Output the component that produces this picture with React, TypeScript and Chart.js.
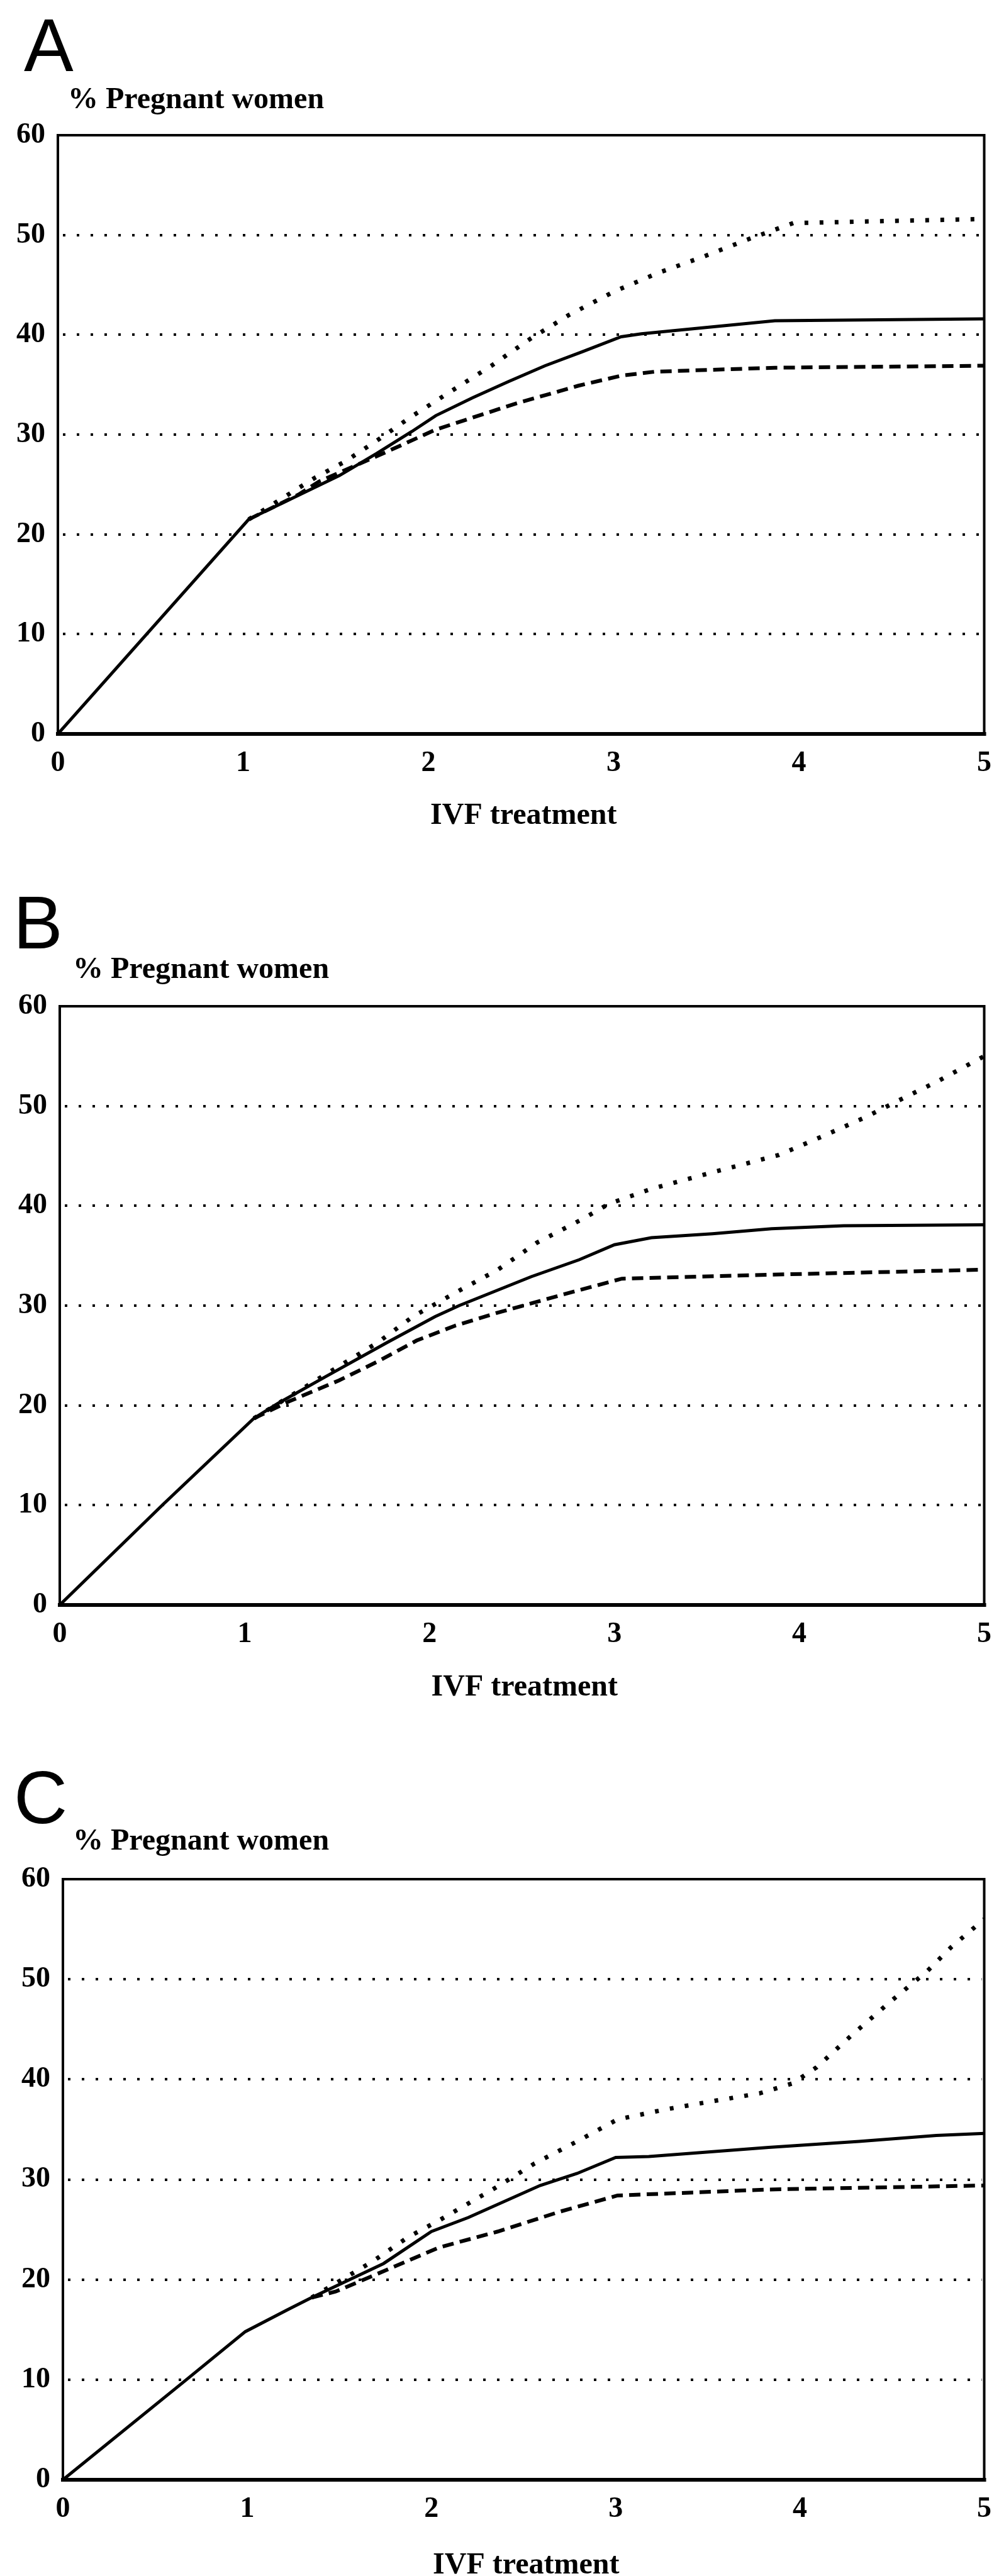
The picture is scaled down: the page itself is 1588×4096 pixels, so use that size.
import React, { useEffect, useRef } from "react";
import { Chart, registerables } from "chart.js";

Chart.register(...registerables);

// ---------- shared labels ----------
const X_TICK_MIN = 0;
const X_TICK_MAX = 5;
const Y_TICK_MIN = 0;
const Y_TICK_MAX = 60;
const Y_GRID_VALUES = [10, 20, 30, 40, 50];
const PANEL_LETTERS = ["A", "B", "C"];
const Y_TITLE = "% Pregnant women";
const X_TITLE = "IVF treatment";

// ---------- Panel A ----------
const A_SOLID_X = [0, 1.03, 1.32, 1.52, 1.72, 1.91, 2.04, 2.24, 2.43, 2.63, 2.83, 3.04, 3.15, 3.87, 5];
const A_SOLID_Y = [0, 21.5, 24.1, 25.9, 28.1, 30.3, 31.9, 33.7, 35.3, 36.9, 38.3, 39.8, 40.1, 41.4, 41.6];
const A_DASH_X = [1.03, 1.3, 1.41, 1.73, 2.04, 2.47, 2.81, 3.04, 3.22, 3.87, 5];
const A_DASH_Y = [21.5, 24.0, 25.3, 27.9, 30.5, 33.1, 34.9, 35.9, 36.3, 36.7, 36.9];
const A_DOT_X = [1.03, 1.39, 1.55, 1.73, 1.9, 2.11, 2.34, 2.55, 2.76, 3.01, 3.24, 3.48, 3.73, 3.97, 5];
const A_DOT_Y = [21.5, 25.7, 27.3, 29.5, 31.7, 34.2, 36.9, 39.6, 42.0, 44.4, 46.2, 47.8, 49.6, 51.2, 51.6];

// ---------- Panel B ----------
const B_SOLID_X = [0, 0.56, 1.05, 1.18, 1.44, 1.77, 2.03, 2.16, 2.55, 2.81, 3.0, 3.2, 3.53, 3.85, 4.24, 5];
const B_SOLID_Y = [0, 10.1, 18.7, 20.2, 22.9, 26.3, 28.9, 30.0, 32.9, 34.6, 36.1, 36.8, 37.2, 37.7, 38.0, 38.1];
const B_DASH_X = [1.05, 1.24, 1.51, 1.72, 1.93, 2.14, 2.37, 2.7, 3.04, 3.85, 5];
const B_DASH_Y = [18.7, 20.4, 22.5, 24.4, 26.5, 28.0, 29.3, 31.0, 32.7, 33.1, 33.6];
const B_DOT_X = [1.05, 1.42, 1.72, 1.91, 2.16, 2.37, 2.58, 2.83, 2.97, 3.2, 3.54, 3.89, 4.13, 4.36, 4.52, 4.75, 5];
const B_DOT_Y = [18.7, 22.9, 26.3, 28.9, 31.5, 33.6, 36.3, 38.7, 40.2, 41.7, 43.4, 45.1, 47.0, 48.9, 50.4, 52.5, 55.0];

// ---------- Panel C ----------
const C_SOLID_X = [0, 0.67, 0.99, 1.22, 1.35, 1.74, 2.0, 2.2, 2.59, 2.79, 3.0, 3.18, 3.83, 4.32, 4.74, 5];
const C_SOLID_Y = [0, 10.0, 14.8, 17.0, 18.2, 21.6, 24.8, 26.2, 29.4, 30.6, 32.2, 32.3, 33.2, 33.8, 34.4, 34.6];
const C_DASH_X = [1.35, 1.48, 1.71, 2.04, 2.36, 2.7, 3.01, 3.83, 5];
const C_DASH_Y = [18.2, 18.8, 20.6, 23.2, 24.8, 26.8, 28.4, 29.0, 29.4];
const C_DOT_X = [1.35, 1.68, 1.87, 2.05, 2.35, 2.56, 2.79, 3.01, 3.27, 3.52, 3.78, 3.96, 4.09, 4.28, 4.48, 4.69, 4.82, 5];
const C_DOT_Y = [18.2, 21.8, 24.2, 26.0, 29.2, 31.6, 33.8, 36.0, 37.0, 37.8, 38.6, 39.6, 41.2, 44.4, 47.6, 50.8, 53.2, 56.0];

// ---------- styling / layout (target px) ----------
const PAGE_W = 1588;
const TICK_FONT = { family: "Liberation Serif", weight: "bold" as const, size: 46 };
const TEXT_FONT = "bold 48px 'Liberation Serif'";
const LETTER_FONT = "118px 'Liberation Sans'";

type Series = { xs: number[]; ys: number[]; width: number; dash: number[] };
type Layout = {
  canvasTop: number;
  canvasH: number;
  plotTop: number;
  plotBottom: number;
  plotLeft: number;
  plotRight: number;
  letterX: number;
  letterBase: number;
  labelX: number;
  labelBase: number;
  titleBase: number;
};

const SOLID = { width: 5, dash: [] as number[] };
const DASHED = { width: 6, dash: [18, 10] };
const DOTTED = { width: 7, dash: [6, 18] };

const PANELS: { letter: string; layout: Layout; series: Series[] }[] = [
  {
    letter: PANEL_LETTERS[0],
    layout: { canvasTop: 0, canvasH: 1340, plotTop: 215, plotBottom: 1167, plotLeft: 92, plotRight: 1567, letterX: 38, letterBase: 113, labelX: 108, labelBase: 172, titleBase: 1310 },
    series: [
      { xs: A_DOT_X, ys: A_DOT_Y, ...DOTTED },
      { xs: A_DASH_X, ys: A_DASH_Y, ...DASHED },
      { xs: A_SOLID_X, ys: A_SOLID_Y, ...SOLID },
    ],
  },
  {
    letter: PANEL_LETTERS[1],
    layout: { canvasTop: 1340, canvasH: 1390, plotTop: 1600, plotBottom: 2552, plotLeft: 95, plotRight: 1576, letterX: 21, letterBase: 1508, labelX: 116, labelBase: 1555, titleBase: 2696 },
    series: [
      { xs: B_DOT_X, ys: B_DOT_Y, ...DOTTED },
      { xs: B_DASH_X, ys: B_DASH_Y, ...DASHED },
      { xs: B_SOLID_X, ys: B_SOLID_Y, ...SOLID },
    ],
  },
  {
    letter: PANEL_LETTERS[2],
    layout: { canvasTop: 2730, canvasH: 1366, plotTop: 2988, plotBottom: 3943, plotLeft: 100, plotRight: 1582, letterX: 22, letterBase: 2899, labelX: 116, labelBase: 2941, titleBase: 4092 },
    series: [
      { xs: C_DOT_X, ys: C_DOT_Y, ...DOTTED },
      { xs: C_DASH_X, ys: C_DASH_Y, ...DASHED },
      { xs: C_SOLID_X, ys: C_SOLID_Y, ...SOLID },
    ],
  },
];

function Panel({ letter, layout, series }: { letter: string; layout: Layout; series: Series[] }) {
  const ref = useRef<HTMLCanvasElement | null>(null);

  useEffect(() => {
    const canvas = ref.current;
    if (!canvas) return;
    const L = layout;
    const top = L.canvasTop;

    const framePlugin = {
      id: "frameAndText",
      beforeDatasetsDraw(chart: any) {
        const { ctx, chartArea } = chart;
        const ys = chart.scales.y;
        ctx.save();
        ctx.strokeStyle = "#000";
        ctx.lineWidth = 4;
        ctx.setLineDash([4, 18]);
        for (const v of Y_GRID_VALUES) {
          const py = Math.round(ys.getPixelForValue(v));
          ctx.beginPath();
          ctx.moveTo(chartArea.left + 8, py);
          ctx.lineTo(chartArea.right - 4, py);
          ctx.stroke();
        }
        ctx.restore();
      },
      afterDatasetsDraw(chart: any) {
        const { ctx, chartArea } = chart;
        const { left, right, top: t, bottom } = chartArea;
        ctx.save();
        ctx.strokeStyle = "#000";
        ctx.setLineDash([]);
        ctx.lineCap = "square";
        ctx.lineWidth = 4;
        ctx.beginPath();
        ctx.moveTo(left, bottom);
        ctx.lineTo(left, t);
        ctx.lineTo(right, t);
        ctx.lineTo(right, bottom);
        ctx.stroke();
        ctx.lineWidth = 6;
        ctx.beginPath();
        ctx.moveTo(left, bottom);
        ctx.lineTo(right, bottom);
        ctx.stroke();

        ctx.fillStyle = "#000";
        ctx.textBaseline = "alphabetic";
        ctx.textAlign = "left";
        ctx.font = LETTER_FONT;
        ctx.fillText(letter, L.letterX, L.letterBase - top);
        ctx.font = TEXT_FONT;
        ctx.fillText(Y_TITLE, L.labelX, L.labelBase - top);
        ctx.textAlign = "center";
        ctx.fillText(X_TITLE, (left + right) / 2 + 4, L.titleBase - top);
        ctx.restore();
      },
    };

    const chart = new Chart(canvas, {
      type: "line",
      data: {
        datasets: series.map((s) => ({
          data: s.xs.map((x, i) => ({ x, y: s.ys[i] })),
          borderColor: "#000",
          backgroundColor: "#000",
          borderWidth: s.width,
          borderDash: s.dash,
          borderCapStyle: "butt" as const,
          pointRadius: 0,
          fill: false,
          tension: 0,
        })),
      },
      options: {
        animation: false,
        responsive: false,
        maintainAspectRatio: false,
        devicePixelRatio: 1,
        events: [],
        layout: {
          padding: { top: L.plotTop - top, right: PAGE_W - L.plotRight, bottom: 0, left: 0 },
        },
        plugins: {
          legend: { display: false },
          tooltip: { enabled: false },
          title: { display: false },
        },
        scales: {
          x: {
            type: "linear",
            min: X_TICK_MIN,
            max: X_TICK_MAX,
            grid: { display: false },
            border: { display: false },
            ticks: {
              stepSize: 1,
              autoSkip: false,
              maxRotation: 0,
              padding: 12,
              color: "#000",
              font: TICK_FONT,
            },
            afterFit: (s: any) => {
              s.height = L.canvasH - (L.plotBottom - top);
            },
          },
          y: {
            type: "linear",
            min: Y_TICK_MIN,
            max: Y_TICK_MAX,
            grid: { display: false },
            border: { display: false },
            ticks: {
              stepSize: 10,
              padding: 12,
              color: "#000",
              font: TICK_FONT,
            },
            afterFit: (s: any) => {
              s.width = L.plotLeft;
            },
          },
        },
      },
      plugins: [framePlugin],
    });
    return () => chart.destroy();
  }, [letter, layout, series]);

  return (
    <canvas
      ref={ref}
      width={PAGE_W}
      height={layout.canvasH}
      style={{ position: "absolute", left: 0, top: layout.canvasTop, width: PAGE_W, height: layout.canvasH, display: "block" }}
    />
  );
}

export default function App() {
  return (
    <div style={{ position: "absolute", left: 0, top: 0, width: PAGE_W, height: 4096, background: "#fff" }}>
      {PANELS.map((p) => (
        <Panel key={p.letter} letter={p.letter} layout={p.layout} series={p.series} />
      ))}
    </div>
  );
}
